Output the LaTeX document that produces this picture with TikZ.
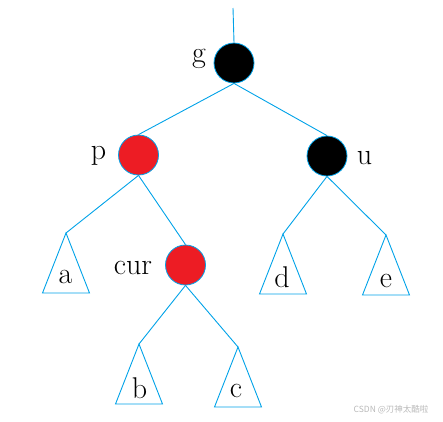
\documentclass[tikz,border=0pt]{standalone}
\usepackage{fontspec}
\newfontfamily\cjkfont{Noto Sans CJK SC}
\begin{document}
\begin{tikzpicture}[x=1pt, y=-1pt, font=\fontsize{30}{36}\selectfont,
		rbnode/.style={circle, draw=skyblue, line width=0.8pt, minimum size=40pt, inner sep=0pt},
		edge/.style={skyblue, line width=0.9pt},
		lbl/.style={anchor=base, inner sep=0pt}]
	\definecolor{skyblue}{RGB}{0, 162, 232}
	\definecolor{rbred}{RGB}{237, 28, 36}
	\useasboundingbox (0,0) rectangle (443,421);
	
	% 红黑树结点
	\coordinate (root) at (233,8);
	\node[rbnode, fill=black] (g) at (234,63) {};
	\node[rbnode, fill=rbred] (p) at (138.5,155) {};
	\node[rbnode, fill=black] (u) at (327,156) {};
	\node[rbnode, fill=rbred] (cur) at (185.5,265) {};
	
	% 结点名称
	\node[lbl] (gname) at (199,62) {g};
	\node[lbl] (pname) at (98.5,159) {p};
	\node[lbl] (uname) at (364.5,164) {u};
	\node[lbl] (curname) at (133,274) {cur};
	
	% 子树（三角形）
	\foreach \n/\x/\y in {ta/66/233, tb/139/344, tc/238/347, td/283/234, te/386/235}
	{
		\coordinate (\n) at (\x,\y);
		\draw[edge] (\n) -- ++(-23.5,60) -- ++(47,0) -- cycle;
	}
	\node[lbl] (a) at (65.5,283) {a};
	\node[lbl] (b) at (139.5,398) {b};
	\node[lbl] (c) at (236,397) {c};
	\node[lbl] (d) at (282,287) {d};
	\node[lbl] (e) at (386,287) {e};
	
	% 连线
	\draw[edge] (root) -- (g.north);
	\draw[edge] (g.south) -- (p.north);
	\draw[edge] (g.south) -- (u.north);
	\draw[edge] (p.south) -- (ta);
	\draw[edge] (p.south) -- (cur.north);
	\draw[edge] (u.south) -- (td);
	\draw[edge] (u.south) -- (te);
	\draw[edge] (cur.south) -- (tb);
	\draw[edge] (cur.south) -- (tc);
	
	% 水印
	\node[text=gray!55, font=\cjkfont\fontsize{8.5}{10}\selectfont] (mark) at (391,410) {CSDN @刃神太酷啦};
\end{tikzpicture}
\end{document}
